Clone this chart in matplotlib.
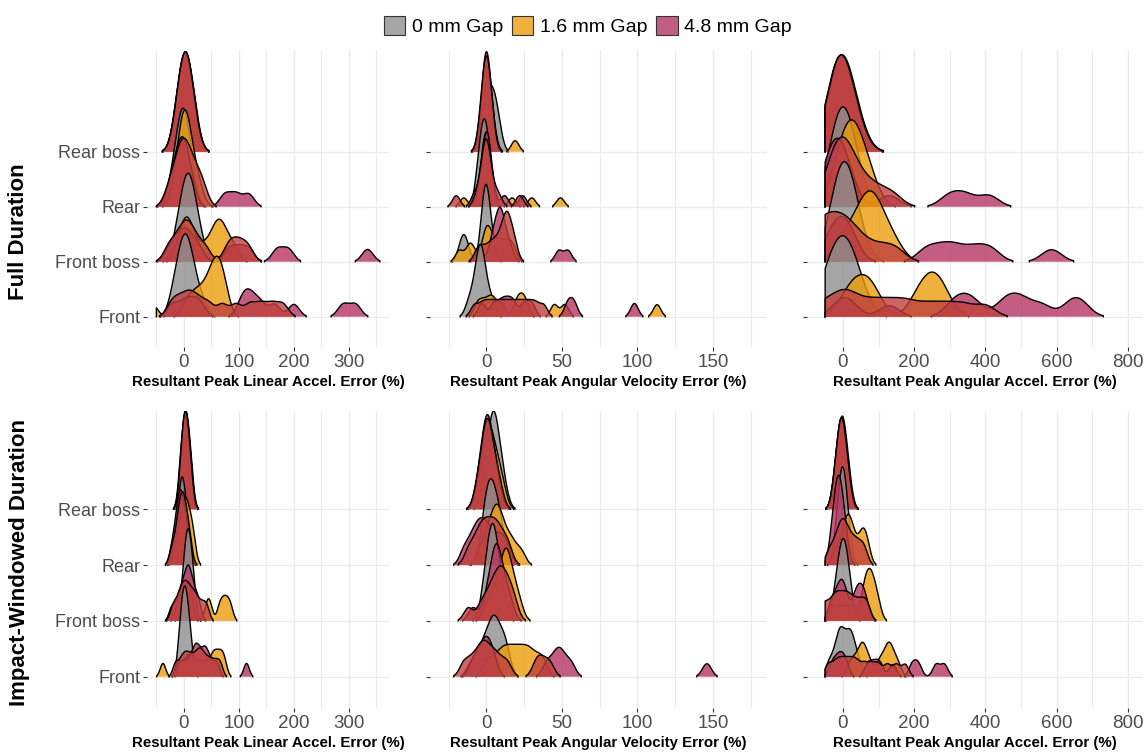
import numpy as np
import matplotlib.pyplot as plt
from matplotlib.patches import Patch
from matplotlib.colors import to_rgba

plt.rcParams['font.family'] = ['Liberation Sans', 'DejaVu Sans']

rows = ['Front', 'Front boss', 'Rear', 'Rear boss']
gaps = ['0 mm Gap', '1.6 mm Gap', '4.8 mm Gap']
# gray, orange, magenta + a red series that is not in the legend
colors = ['#8f8f8f', '#ec9c0b', '#b53663', '#bf403d']

titles = ['Resultant Peak Linear Accel. Error (%)',
          'Resultant Peak Angular Velocity Error (%)',
          'Resultant Peak Angular Accel. Error (%)']

# error samples (%), each list of 4 = Front, Front boss, Rear, Rear boss
# --- full duration ---
lin_full_0 = [[-20,-13,-8,-4,-1,2,5,8,12,16,22,34],
              [-14,-8,-3,1,4,7,9,12,15,19,24,32],
              [-24,-16,-11,-8,-5,-3,-1,1,4,7,11,16],
              [-14,-9,-6,-3,0,2,4,7,10,13,17,22]]
lin_full_16 = [[-58,5,18,28,38,46,52,57,61,65,70,76],
               [-8,0,5,10,18,35,50,58,64,70,78,92],
               [-15,-9,-5,-2,0,2,4,6,9,14,20,28],
               [-16,-10,-6,-3,0,2,4,6,9,12,16,21]]
lin_full_48 = [[-20,0,15,30,105,115,125,140,165,200,290,312],
               [-25,-12,-3,5,14,28,82,100,118,170,190,334],
               [-26,-17,-11,-7,-4,-1,3,8,14,75,95,118],
               [-15,-10,-7,-4,-1,2,4,6,9,12,15,22]]
lin_full_x = [[-22,-8,5,15,28,45,70,95,120,140,160,180],
              [-28,-15,-5,2,8,15,25,40,80,92,104,118],
              [-28,-18,-12,-7,-3,0,4,9,14,20,28,36],
              [-15,-10,-6,-3,0,2,4,6,9,12,16,22]]

vel_full_0 = [[-12,-9,-7,-6,-5,-4,-4,-3,-2,-1,1,4],
              [-17,-15,-13,-3,-2,-1,-1,0,0,1,2,4],
              [-6,-5,-4,-3,-2,-2,-1,-1,0,1,2,3],
              [-4,-2,-1,0,1,2,3,4,5,6,7,9]]
vel_full_16 = [[-6,-2,2,5,10,20,23,26,45,52,113],
               [-18,-12,-9,-2,0,1,3,6,9,12,15,18],
               [-15,-4,-3,-2,-1,-1,0,0,1,1,2,3,17,30,49],
               [-4,-3,-2,-1,0,0,1,1,2,3,4,19]]
vel_full_48 = [[-3,5,10,14,18,25,30,54,58,98],
               [-5,3,5,7,8,9,10,11,13,16,48,54],
               [-8,-4,-2,-1,0,0,1,1,2,4,12,24],
               [-3,-2,-2,-1,0,0,0,1,1,2,3,5]]
vel_full_x = [[-8,-3,1,5,9,13,17,21,25,29,33,38],
              [-6,-2,2,5,8,10,12,13,14,15,17,19],
              [-20,-6,-3,-2,-1,0,0,1,2,4,8,22],
              [-4,-3,-2,-1,-1,0,0,1,1,2,3,4]]

acc_full_0 = [[-60,-45,-32,-22,-13,-5,3,10,18,28,40,58],
              [-35,-24,-16,-9,-3,2,7,12,18,25,34,48],
              [-40,-28,-20,-13,-7,-2,3,8,14,21,30,44],
              [-43,-30,-22,-15,-9,-4,1,6,13,21,32,50]]
acc_full_16 = [[5,25,45,60,75,95,205,225,245,255,270,290],
               [-10,15,35,50,60,70,78,86,95,108,125,150],
               [-25,-10,0,10,16,22,28,35,44,55,68,82],
               [-45,-32,-24,-17,-11,-6,-1,4,11,19,30,48]]
acc_full_48 = [[-10,20,130,310,340,370,450,480,510,560,640,670],
               [-40,-20,-5,10,25,235,280,320,370,415,586],
               [-50,-38,-28,-20,-12,-4,5,20,130,300,345,410],
               [-47,-34,-25,-18,-12,-7,-2,3,10,18,29,46]]
acc_full_x = [[-60,-20,5,30,70,110,150,190,240,290,340,400],
              [-90,-70,-55,-40,-25,-10,5,20,40,70,110,150],
              [-45,-30,-20,-10,-2,6,15,28,45,70,100,140],
              [-45,-32,-24,-17,-11,-6,-1,4,11,19,30,48]]

# --- impact-windowed duration ---
lin_imp_0 = [[-9,-6,-4,-2,0,1,3,4,6,8,11,14],
             [-4,0,2,4,6,7,8,10,12,14,16,19],
             [-18,-13,-9,-7,-5,-4,-3,-1,1,3,6,9],
             [-5,-3,-1,1,2,3,5,6,8,10,12,15]]
lin_imp_16 = [[-38,-5,5,12,20,30,40,50,56,62,68,74],
              [-12,-4,2,6,10,14,42,48,65,72,78,85],
              [-16,-10,-6,-3,0,2,4,6,9,12,15,19],
              [-6,-4,-2,0,1,3,4,5,7,9,11,14]]
lin_imp_48 = [[-10,0,10,17,22,26,32,38,42,50,60,114],
              [-22,-12,-6,-2,2,5,8,10,13,17,22,28],
              [-22,-16,-13,-10,-8,-7,-5,-3,0,3,6,10],
              [-7,-5,-3,-1,1,2,4,5,7,9,11,14]]
lin_imp_x = [[-15,-5,2,8,15,22,28,33,40,48,57,66],
             [-20,-12,-6,-2,2,6,10,15,20,26,34,42],
             [-22,-15,-11,-8,-6,-4,-2,0,2,5,8,12],
             [-6,-4,-2,0,1,3,4,5,7,9,11,14]]

vel_imp_0 = [[-10,-5,-2,0,2,4,5,6,8,10,12,14],
             [-2,0,1,2,3,4,5,5,6,7,9,11],
             [-3,-1,0,1,2,3,4,5,6,8,9,11],
             [-1,1,2,3,4,5,5,6,7,8,10,12]]
vel_imp_16 = [[0,5,9,12,15,18,21,24,27,30,34,38],
              [0,4,7,9,11,12,13,14,15,17,19,22],
              [-4,0,2,4,6,7,8,10,12,15,18,23],
              [-5,-3,-1,0,1,2,3,4,5,7,9,11]]
vel_imp_48 = [[-9,-5,-2,0,2,5,40,45,48,51,56,146],
              [-9,-1,2,4,5,6,7,8,9,11,13,16],
              [-15,-11,-8,-6,-4,-2,0,2,5,8,11,14],
              [-6,-4,-2,-1,0,0,1,2,3,4,6,8]]
vel_imp_x = [[-15,-10,-6,-3,-1,2,5,9,14,33,37,42],
             [-12,-4,0,3,5,7,9,10,12,14,16,19],
             [-12,-8,-5,-3,-1,1,3,5,7,9,12,15],
             [-6,-4,-2,-1,0,1,1,2,3,5,7,9]]

acc_imp_0 = [[-40,-25,-15,-10,-5,0,8,15,20,26,32,45],
             [-24,-17,-12,-8,-4,-1,2,5,8,12,17,24],
             [-20,-14,-10,-7,-4,-2,0,2,5,8,12,18],
             [-22,-15,-11,-8,-5,-3,-1,2,5,9,13,20]]
acc_imp_16 = [[20,35,48,55,62,75,100,115,125,132,140,155],
              [-30,-10,10,30,55,62,68,73,78,84,90,100],
              [-20,-5,5,10,15,20,26,35,48,55,62,70],
              [-25,-18,-14,-10,-7,-5,-3,0,3,7,11,18]]
acc_imp_48 = [[-30,-15,-4,8,70,88,105,140,195,212,262,285],
              [-35,-22,-12,-5,2,10,30,40,48,56,66],
              [-33,-27,-22,-19,-16,-13,-11,-8,-5,-1,3,10],
              [-25,-18,-14,-10,-7,-5,-3,0,3,7,11,18]]
acc_imp_x = [[-40,-20,-5,10,25,40,60,80,100,125,150,175],
             [-60,-45,-30,-20,-10,0,10,20,32,45,58,70],
             [-40,-25,-15,-8,-2,4,10,18,28,38,50,62],
             [-25,-18,-14,-10,-7,-5,-3,0,3,7,11,18]]


def kde(vals, xs, bw):
    v = np.asarray(vals, float)
    z = (xs[:, None] - v[None, :]) / bw
    return np.exp(-0.5 * z ** 2).sum(1) / (len(v) * bw * np.sqrt(2 * np.pi))


def ridges(ax, series, bw, xlim, scale):
    xs = np.linspace(-50, xlim[1], 1500)
    dens = [[kde(s[r], xs, bw) for r in range(4)] for s in series]
    top = max(d.max() for grp in dens for d in grp)
    cut = 0.01 * top
    for r in range(3, -1, -1):
        base = r + 1
        for g, c in enumerate(colors):
            d = dens[g][r]
            idx = np.flatnonzero(d > cut)
            if len(idx) == 0:
                continue
            z = 10 + (3 - r) * 10 + g * 2
            for run in np.split(idx, np.where(np.diff(idx) > 1)[0] + 1):
                px = np.r_[xs[run[0]], xs[run], xs[run[-1]]]
                py = np.r_[base, base + d[run] / top * scale, base]
                ax.fill(px, py, color=c, alpha=0.8, lw=0, zorder=z)
                ax.plot(px, py, color='black', lw=1.0, zorder=z + 0.5)


W, H = 1148, 754
fig = plt.figure(figsize=(W / 100, H / 100), dpi=100)

cols_px = [(147, 389), (430, 767), (807, 1143)]
rows_px = [(50, 347), (411, 708)]
xlims = [(-67, 373), (-37.4, 185.8), (-101, 843)]
majors = [[0, 100, 200, 300], [0, 50, 100, 150], [0, 200, 400, 600, 800]]
minors = [[-50, 50, 150, 250, 350], [-25, 25, 75, 125, 175], [100, 300, 500, 700]]
ylims = [(0.45, 5.85), (0.44, 5.76)]
scales = [1.82, 1.76]

panel_data = [
    [([lin_full_0, lin_full_16, lin_full_48, lin_full_x], 10),
     ([vel_full_0, vel_full_16, vel_full_48, vel_full_x], 2.5),
     ([acc_full_0, acc_full_16, acc_full_48, acc_full_x], 28)],
    [([lin_imp_0, lin_imp_16, lin_imp_48, lin_imp_x], 5),
     ([vel_imp_0, vel_imp_16, vel_imp_48, vel_imp_x], 3),
     ([acc_imp_0, acc_imp_16, acc_imp_48, acc_imp_x], 10)],
]

for i in range(2):
    y0, y1 = rows_px[i]
    for j in range(3):
        x0, x1 = cols_px[j]
        ax = fig.add_axes([x0 / W, 1 - y1 / H, (x1 - x0) / W, (y1 - y0) / H])
        series, bw = panel_data[i][j]
        ridges(ax, series, bw, xlims[j], scales[i])
        ax.set_xlim(*xlims[j])
        ax.set_ylim(*ylims[i])
        for s in ax.spines.values():
            s.set_visible(False)
        for v in majors[j]:
            ax.axvline(v, color='#ebebeb', lw=1.0, zorder=0)
        for v in minors[j]:
            ax.axvline(v, color='#ebebeb', lw=0.8, zorder=0)
        for k in range(4):
            ax.axhline(k + 1, color='#ebebeb', lw=1.0, zorder=0)
        ax.set_xticks(majors[j])
        ax.set_xticklabels([str(v) for v in majors[j]])
        ax.set_yticks([1, 2, 3, 4])
        ax.set_yticklabels(rows if j == 0 else [''] * 4)
        ax.tick_params(axis='both', length=3, width=0.8, color='#333333',
                       labelcolor='#4d4d4d', pad=2)
        ax.tick_params(axis='x', labelsize=13.5)
        ax.tick_params(axis='y', labelsize=13)
        ax.set_xlabel(titles[j], fontsize=10.8, fontweight='bold', labelpad=3)

fig.text(19 / W, 1 - 232 / H, 'Full Duration', rotation=90, fontsize=16,
         fontweight='bold', ha='center', va='center')
fig.text(20 / W, 1 - 562 / H, 'Impact-Windowed Duration', rotation=90,
         fontsize=16, fontweight='bold', ha='center', va='center')

handles = [Patch(facecolor=to_rgba(c, 0.8), edgecolor='#333333', lw=0.8)
           for c in colors[:3]]
fig.legend(handles, gaps, loc='center', bbox_to_anchor=(0.512, 1 - 26 / H),
           ncol=3, frameon=False, fontsize=14, handlelength=1.1,
           handleheight=1.1, handletextpad=0.35, columnspacing=0.45)

fig.savefig('out.png', dpi=100)
